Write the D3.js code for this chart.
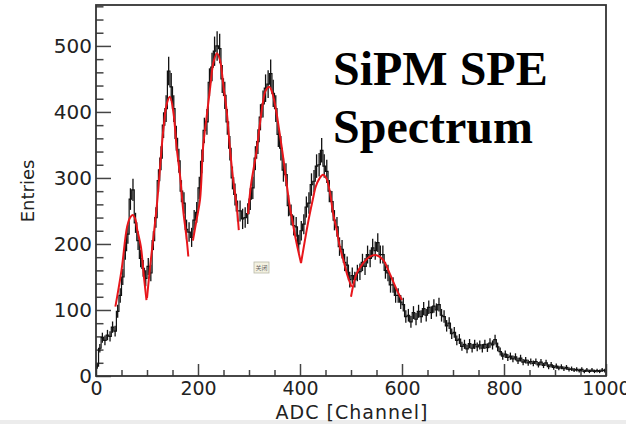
<!DOCTYPE html>
<html>
<head>
<meta charset="utf-8">
<script src="https://cdn.jsdelivr.net/npm/d3@7"></script>
<style>
  html, body { margin: 0; padding: 0; background: #fff; }
  svg { display: block; }
  .axis text { font-family: "DejaVu Sans", sans-serif; font-size: 19px; fill: #222; }
  .axis line { stroke: #444; stroke-width: 1.5; }
</style>
</head>
<body>
<svg id="area" width="626" height="424"></svg>
<script>
// ADC histogram, 5 channels per bin
const binWidth = 5;
const entries = [
  15, 42, 58, 54, 62, 60, 74, 68, 98, 122,
  150, 190, 215, 268, 282, 232, 205, 178, 163, 148,
  166, 156, 205, 240, 296, 330, 380, 405, 462, 438,
  405, 360, 326, 280, 262, 222, 218, 210, 236, 248,
  285, 325, 372, 385, 445, 468, 492, 500, 496, 450,
  425, 385, 345, 300, 275, 250, 250, 238, 240, 246,
  268, 285, 330, 355, 392, 412, 436, 442, 458, 428,
  405, 366, 345, 312, 305, 258, 244, 228, 226, 200,
  220, 230, 256, 262, 290, 295, 318, 320, 342, 318,
  310, 280, 264, 236, 226, 196, 192, 172, 168, 146,
  152, 146, 156, 158, 172, 166, 184, 178, 194, 190,
  202, 184, 184, 160, 156, 138, 138, 122, 122, 112,
  108, 90, 92, 82, 96, 86, 98, 90, 102, 92,
  104, 96, 106, 100, 108, 92, 90, 76, 80, 64,
  66, 54, 56, 45, 48, 41, 49, 42, 48, 44,
  47, 42, 48, 43, 50, 47, 55, 44, 37, 30,
  33, 28, 30, 26, 29, 23, 27, 21, 24, 20,
  22, 19, 22, 17, 21, 16, 20, 14, 17, 13,
  15, 12, 14, 11, 13, 10, 11, 9, 10, 8,
  10, 7, 9, 7, 9, 7, 8, 7, 9, 8,
];

// red fit pieces, [channel, entries]
const fit1 = [[38, 105], [50, 160], [61, 226], [67, 240], [72, 244], [77, 238], [81, 221], [88, 196], [94, 150], [99, 115]];
const fit2 = [[100, 118], [106, 165], [119, 256], [132, 373], [139, 413], [145, 423], [152, 398], [158, 347], [165, 302], [171, 251], [178, 206], [181, 181]];
const fit3 = [[190, 205], [197, 236], [204, 267], [210, 347], [217, 393], [224, 438], [230, 474], [237, 489], [243, 479], [250, 438], [256, 403], [263, 342], [269, 297], [276, 256], [280, 221]];
const fit4 = [[298, 245], [304, 290], [314, 337], [320, 373], [327, 413], [333, 433], [340, 438], [346, 428], [353, 403], [359, 373], [366, 337], [372, 302], [379, 262], [386, 231], [392, 206], [402, 171]];
const fit5 = [[402, 171], [412, 216], [418, 241], [425, 267], [431, 287], [438, 299], [445, 305], [452, 299], [459, 277], [465, 246], [472, 221], [478, 196], [485, 176], [492, 155], [501, 135]];
const fit6 = [[500, 120], [511, 155], [524, 171], [537, 181], [550, 183], [563, 176], [576, 155], [590, 130], [600, 115]];
const fits = [fit1, fit2, fit3, fit4, fit5, fit6];

const xMajor = [0, 200, 400, 600, 800, 1000];
const yMajor = [0, 100, 200, 300, 400, 500];

const svg = d3.select('#area');
const margin = { top: 5, right: 20, bottom: 48, left: 96 };
const width = 510;
const height = 371;

const x = d3.scaleLinear().domain([0, 1000]).range([margin.left, margin.left + width]);
const y = d3.scaleLinear().domain([0, 562]).range([margin.top + height, margin.top]);

// grey strip at the bottom of the screenshot
svg.append('rect')
  .attr('x', 0).attr('y', 420).attr('width', 626).attr('height', 4)
  .attr('fill', '#ececec');

// minor ticks
const xMinor = d3.range(0, 1001, 50).filter((d) => !xMajor.includes(d));
const yMinor = d3.range(0, 561, 20).filter((d) => !yMajor.includes(d));

svg.append('g')
  .attr('class', 'axis')
  .attr('transform', `translate(0, ${y(0)})`)
  .call(d3.axisBottom(x).tickValues(xMinor).tickSize(-6).tickFormat(''))
  .call((g) => g.select('.domain').remove());

svg.append('g')
  .attr('class', 'axis')
  .attr('transform', `translate(${x(0)}, 0)`)
  .call(d3.axisLeft(y).tickValues(yMinor).tickSize(-7.5).tickFormat(''))
  .call((g) => g.select('.domain').remove());

// major ticks + labels
svg.append('g')
  .attr('class', 'axis')
  .attr('transform', `translate(0, ${y(0)})`)
  .call(d3.axisBottom(x).tickValues(xMajor).tickSize(-12).tickPadding(6).tickFormat(d3.format('d')))
  .call((g) => g.select('.domain').remove());

svg.append('g')
  .attr('class', 'axis')
  .attr('transform', `translate(${x(0)}, 0)`)
  .call(d3.axisLeft(y).tickValues(yMajor).tickSize(-15).tickPadding(4))
  .call((g) => g.select('.domain').remove())
  .call((g) => g.selectAll('text').style('font-size', '20px'));

// histogram: staircase + poisson error bars
const bins = entries.map((v, i) => ({ x0: i * binWidth, x1: (i + 1) * binWidth, v }));
const plot = svg.append('g');

const stepPts = [];
bins.forEach((b) => { stepPts.push([b.x0, b.v]); stepPts.push([b.x1, b.v]); });
plot.append('path')
  .datum(stepPts)
  .attr('fill', 'none')
  .attr('stroke', '#111')
  .attr('stroke-width', 1.2)
  .attr('d', d3.line().x((d) => x(d[0])).y((d) => y(d[1])));

plot.selectAll('line.err')
  .data(bins)
  .join('line')
  .attr('class', 'err')
  .attr('x1', (d) => x((d.x0 + d.x1) / 2))
  .attr('x2', (d) => x((d.x0 + d.x1) / 2))
  .attr('y1', (d) => y(Math.max(0, d.v - Math.sqrt(d.v))))
  .attr('y2', (d) => y(d.v + Math.sqrt(d.v)))
  .attr('stroke', '#111')
  .attr('stroke-width', 1.3);

// fits
const fitLine = d3.line()
  .x((d) => x(d[0]))
  .y((d) => y(d[1]))
  .curve(d3.curveCatmullRom.alpha(0.5));

svg.append('g')
  .selectAll('path')
  .data(fits)
  .join('path')
  .attr('fill', 'none')
  .attr('stroke', '#e8161b')
  .attr('stroke-width', 2)
  .attr('d', fitLine);

// frame
svg.append('rect')
  .attr('x', x(0)).attr('y', y(562))
  .attr('width', x(1000) - x(0)).attr('height', y(0) - y(562))
  .attr('fill', 'none')
  .attr('stroke', '#333')
  .attr('stroke-width', 1.8);

// axis titles
svg.append('text')
  .attr('transform', 'translate(34, 191) rotate(-90)')
  .attr('text-anchor', 'middle')
  .style('font-family', '"DejaVu Sans", sans-serif')
  .style('font-size', '18px')
  .attr('fill', '#222')
  .text('Entries');

svg.append('text')
  .attr('x', 352).attr('y', 419)
  .attr('text-anchor', 'middle')
  .style('font-family', '"DejaVu Sans", sans-serif')
  .style('font-size', '19px')
  .style('letter-spacing', '1px')
  .attr('fill', '#222')
  .text('ADC [Channel]');

// title
const title = svg.append('text')
  .attr('x', 333)
  .style('font-family', '"Liberation Serif", "Times New Roman", serif')
  .style('font-weight', 'bold')
  .style('font-size', '48px')
  .attr('fill', '#000');
title.append('tspan').attr('x', 333).attr('y', 85).text('SiPM SPE');
title.append('tspan').attr('x', 333).attr('y', 143).text('Spectrum');

// little "close" button left on the screenshot
const btn = svg.append('g').attr('transform', 'translate(254, 262)');
btn.append('rect')
  .attr('width', 15).attr('height', 11)
  .attr('fill', '#f4f2e2')
  .attr('stroke', '#b9b9a8')
  .attr('stroke-width', 0.8);
btn.append('text')
  .attr('x', 7.5).attr('y', 8)
  .attr('text-anchor', 'middle')
  .style('font-family', '"Noto Sans CJK SC", sans-serif')
  .style('font-size', '6px')
  .attr('fill', '#666')
  .text('关闭');
</script>
</body>
</html>
